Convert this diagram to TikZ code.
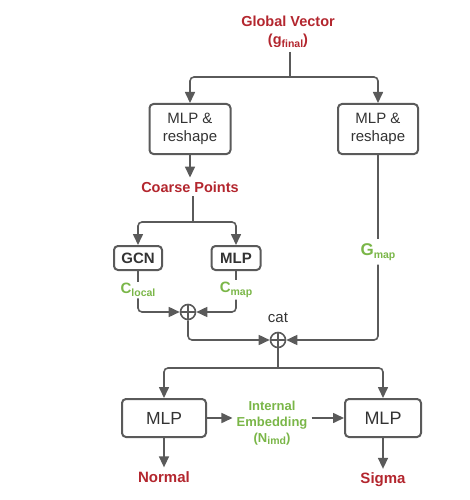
\documentclass[tikz,border=0pt]{standalone}
\usepackage{fontspec}
\setmainfont{Liberation Sans}
\usepackage{tikz}
\usetikzlibrary{arrows.meta}
\definecolor{lblred}{HTML}{B3262E}
\definecolor{lblgreen}{HTML}{7AB648}
\definecolor{linegray}{HTML}{5A5A5A}
\definecolor{txtgray}{HTML}{333333}
\newcommand{\subtxt}[1]{\raisebox{-0.35ex}{\fontsize{10.5}{11}\selectfont #1}}

\begin{document}
\begin{tikzpicture}[x=1pt, y=-1pt,
	every node/.style={text=txtgray, font=\fontsize{15}{18}\selectfont},
	every path/.style={draw=linegray, line width=1.6pt},
	box/.style={draw=linegray, line width=2pt, rounded corners=4pt, align=center, inner sep=0pt},
	redlbl/.style={text=lblred, font=\bfseries\fontsize{14.5}{18}\selectfont, align=center},
	greenlbl/.style={text=lblgreen, font=\bfseries\fontsize{15}{18}\selectfont, align=center},
	plus/.style={circle, draw=linegray, line width=1.6pt, minimum size=15pt, inner sep=0pt,
		path picture={\draw[line width=1.4pt] (path picture bounding box.north) -- (path picture bounding box.south) (path picture bounding box.west) -- (path picture bounding box.east);}},
	arr/.style={-{Triangle[length=11pt, width=10pt]}, rounded corners=4pt}]
		\path[draw=none, use as bounding box] (0,0) rectangle (469,500);
		
		\node[redlbl] (gv) at (288,32){Global Vector\\(g\subtxt{final})};
		\node[box, minimum width=81pt, minimum height=50pt] (mlpA) at (190,129){MLP \&\\reshape};
		\node[box, minimum width=80pt, minimum height=50pt] (mlpB) at (378,129){MLP \&\\reshape};
		\node[redlbl] (coarse) at (190,187){Coarse Points};
		\node[box, font=\bfseries\fontsize{15}{18}\selectfont, minimum width=48pt, minimum height=24pt] (gcn) at (138,258){GCN};
		\node[box, font=\bfseries\fontsize{15}{18}\selectfont, minimum width=49pt, minimum height=24pt] (mlpC) at (236,258){MLP};
		\node[greenlbl, inner sep=1pt] (clocal) at (138,290){C\subtxt{local}};
		\node[greenlbl, inner sep=1pt] (cmap) at (236,290){C\subtxt{map}};
		\node[greenlbl, font=\bfseries\fontsize{17}{18}\selectfont] (gmap) at (378,252){G\subtxt{map}};
		\node[plus] (plusA) at (188,312){};
		\node[plus] (plusB) at (278,340){};
		\node (cat) at (278,318){cat};
		\node[box, font=\fontsize{17.5}{20}\selectfont, minimum width=84pt, minimum height=38pt] (mlpD) at (164,418){MLP};
		\node[box, font=\fontsize{18}{20}\selectfont, minimum width=76pt, minimum height=38pt] (mlpE) at (383,418){MLP};
		\node[greenlbl, font=\bfseries\fontsize{13}{16}\selectfont] (emb) at (272,423){Internal\\Embedding\\(N\subtxt{imd})};
		\node[redlbl, font=\bfseries\fontsize{15}{18}\selectfont] (normal) at (164,477){Normal};
		\node[redlbl, font=\bfseries\fontsize{15}{18}\selectfont] (sigma) at (383,480){Sigma};
		
		\coordinate (splitA) at (290,77);
		\coordinate (splitB) at (193,222);
		\coordinate (splitC) at (278,368);
		
		\path (gv.south -| splitA) edge (splitA);
		\draw[arr] (splitA) -| (mlpA.north);
		\draw[arr] (splitA) -| (mlpB.north);
		\draw[arr] (mlpA) -- (coarse);
		
		\path (coarse.south -| splitB) edge (splitB);
		\draw[arr] (splitB) -| (gcn.north);
		\draw[arr] (splitB) -| (mlpC.north);
		
		\path (gcn) edge (clocal);
		\path (mlpC) edge (cmap);
		\draw[arr] (clocal.south) |- (plusA.west);
		\draw[arr] (cmap.south) |- (plusA.east);
		\draw[arr] (plusA.south) |- (plusB.west);
		
		\path (mlpB) edge (gmap);
		\draw[arr] (gmap.south) |- (plusB.east);
		
		\path (plusB) edge (splitC);
		\draw[arr] (splitC) -| (mlpD.north);
		\draw[arr] (splitC) -| (mlpE.north);
		
		\draw[arr] (mlpD.east) -- (mlpD.east -| emb.west);
		\draw[arr] (mlpE.west -| emb.east) -- (mlpE.west);
		\draw[arr] (mlpD) -- (normal);
		\draw[arr] (mlpE) -- (sigma);
		\end{tikzpicture}
\end{document}
